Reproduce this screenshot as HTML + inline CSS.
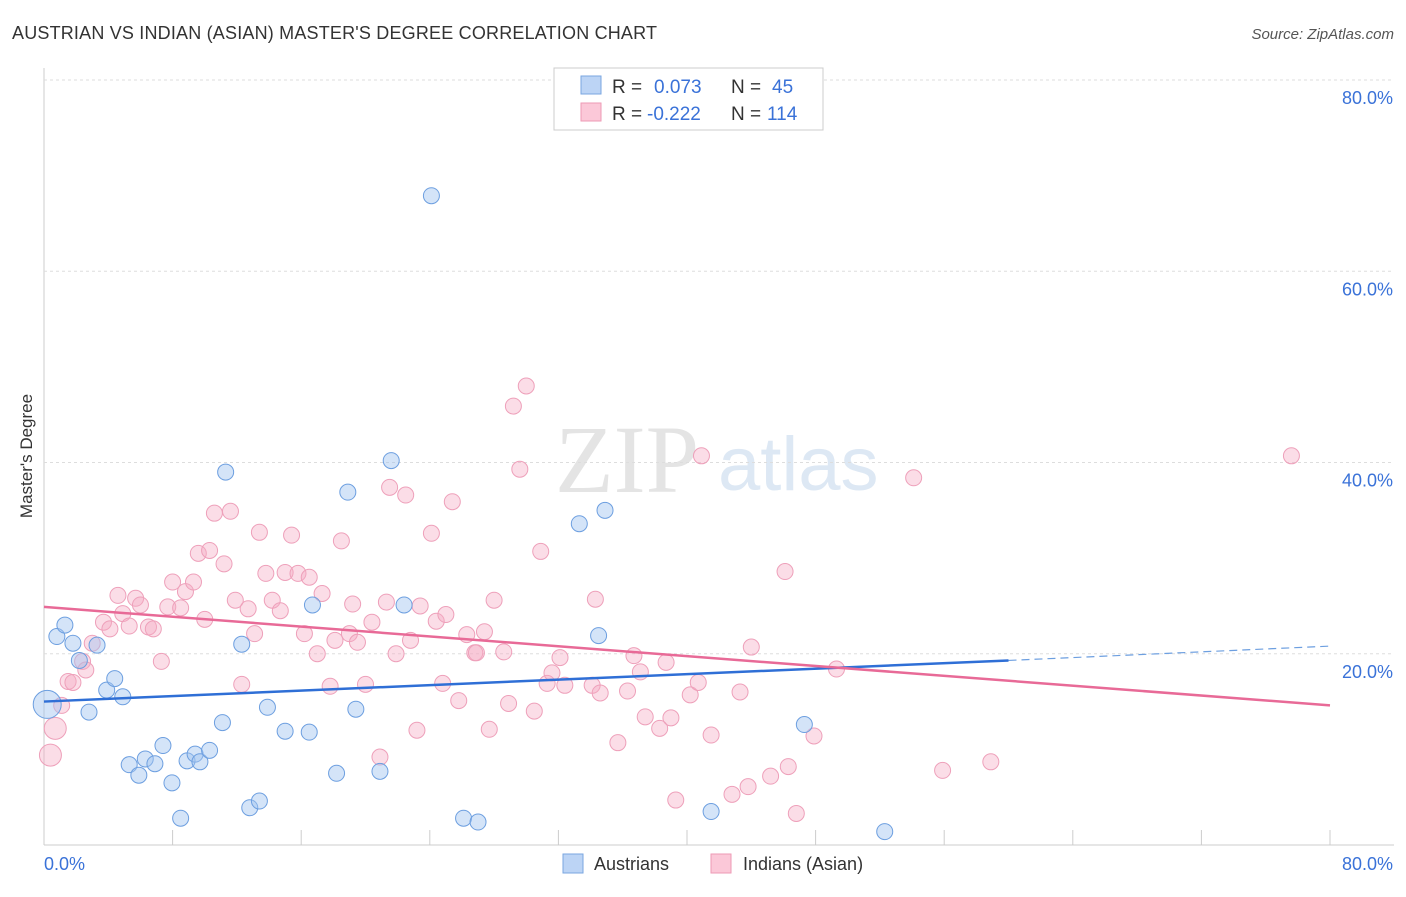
<!DOCTYPE html>
<html><head><meta charset="utf-8"><style>
body{margin:0;background:#fff;font-family:"Liberation Sans",sans-serif;}
</style></head><body>
<svg id="chart" width="1406" height="892" xmlns="http://www.w3.org/2000/svg">
<text x="12" y="39" font-size="18" fill="#333" textLength="645">AUSTRIAN VS INDIAN (ASIAN) MASTER'S DEGREE CORRELATION CHART</text>
<text x="1394" y="39" font-size="15" fill="#555" text-anchor="end" font-style="italic">Source: ZipAtlas.com</text>
<text x="32" y="456" font-size="17" fill="#333" text-anchor="middle" transform="rotate(-90 32 456)">Master's Degree</text>
<text x="555" y="492" font-size="96" fill="#e4e4e4" font-family="Liberation Serif,serif">ZIP</text>
<text x="718" y="490" font-size="76" fill="#dde8f4">atlas</text>
<g id="grid"></g><g id="pts"></g><g id="lines"></g>
<rect x="554" y="68" width="269" height="62" fill="#fff" stroke="#ccc"/>
<rect x="581" y="76" width="20" height="18" fill="#bcd4f5" stroke="#7aa6e0"/>
<rect x="581" y="103" width="20" height="18" fill="#fbc8d8" stroke="#ee9ab5"/>
<text x="612" y="93" font-size="19" fill="#333">R = <tspan x="654" fill="#3a72d8">0.073</tspan><tspan x="731" fill="#333">N = </tspan><tspan x="772" fill="#3a72d8">45</tspan></text>
<text x="612" y="120" font-size="19" fill="#333">R = <tspan x="647" fill="#3a72d8">-0.222</tspan><tspan x="731" fill="#333">N = </tspan><tspan x="767" fill="#3a72d8">114</tspan></text>
<rect x="563" y="854" width="20" height="19" fill="#bcd4f5" stroke="#7aa6e0"/>
<text x="594" y="870" font-size="18" fill="#333">Austrians</text>
<rect x="711" y="854" width="20" height="19" fill="#fbc8d8" stroke="#ee9ab5"/>
<text x="743" y="870" font-size="18" fill="#333">Indians (Asian)</text>
</svg>
<script>
const yTicks=[20,40,60,80];
const xTickLabels=["0.0%","80.0%"];
const blueX=[0.2,0.8,1.3,1.8,2.2,2.8,3.3,3.9,4.4,4.9,5.3,5.9,6.3,6.9,7.4,7.96,8.5,8.9,9.4,9.7,10.3,11.1,11.3,12.3,12.8,13.4,13.9,15.0,16.5,16.7,18.2,18.9,19.4,20.9,21.6,22.4,24.1,26.1,27.0,33.3,34.5,34.9,41.5,47.3,52.3];
const blueY=[14.7,21.8,23.0,21.1,19.3,13.9,20.9,16.2,17.4,15.5,8.4,7.3,9.0,8.5,10.4,6.5,2.8,8.8,9.5,8.7,9.9,12.8,39.0,21.0,3.9,4.6,14.4,11.9,11.8,25.1,7.5,36.9,14.2,7.7,40.2,25.1,67.9,2.8,2.4,33.6,21.9,35.0,3.5,12.6,1.4];
const pinkX=[0.4,0.7,1.1,1.5,1.8,2.4,2.6,3.0,3.7,4.1,4.6,4.9,5.3,5.7,6.0,6.5,6.8,7.3,7.7,8.0,8.5,8.8,9.3,9.6,10.0,10.3,10.6,11.2,11.6,11.9,12.3,12.7,13.1,13.4,13.8,14.2,14.7,15.0,15.4,15.8,16.2,16.5,17.0,17.3,17.8,18.1,18.5,19.0,19.2,19.5,20.0,20.4,20.9,21.3,21.5,21.9,22.5,22.8,23.2,23.4,24.1,24.4,24.8,25.0,25.4,25.8,26.3,26.8,26.9,27.4,27.7,28.0,28.6,28.9,29.2,29.6,30.0,30.5,30.9,31.3,31.6,32.1,32.4,34.1,34.3,34.6,35.7,36.3,36.7,37.1,37.4,38.3,38.7,39.0,39.3,40.2,40.7,40.9,41.5,42.8,43.3,43.8,44.0,45.2,46.1,46.3,46.8,47.9,49.3,54.1,55.9,58.9,77.6];
const pinkY=[9.4,12.2,14.6,17.1,17.0,19.2,18.3,21.1,23.3,22.6,26.1,24.2,22.9,25.8,25.1,22.8,22.6,19.2,24.9,27.5,24.8,26.5,27.5,30.5,23.6,30.8,34.7,29.4,34.9,25.6,16.8,24.7,22.1,32.7,28.4,25.6,24.5,28.5,32.4,28.4,22.1,28.0,20.0,26.3,16.6,21.4,31.8,22.1,25.2,21.2,16.8,23.3,9.2,25.4,37.4,20.0,36.6,21.4,12.0,25.0,32.6,23.4,16.9,24.1,35.9,15.1,22.0,20.1,20.1,22.3,12.1,25.6,20.2,14.8,45.9,39.3,48.0,14.0,30.7,16.9,18.0,19.6,16.7,16.7,25.7,15.9,10.7,16.1,19.8,18.1,13.4,12.2,19.1,13.3,4.7,15.7,17.0,40.7,11.5,5.3,16.0,6.1,20.7,7.2,28.6,8.2,3.3,11.4,18.4,38.4,7.8,8.7,40.7];
const trendBlue=[15.0,19.3,20.8]; // at x=0, 60, 80
const trendPink=[24.9,14.6];    // at x=0, 80
const X0=44,X1=1330,Y0=845,Y80=80;
const sx=v=>X0+(X1-X0)*v/80, sy=v=>Y0-(Y0-Y80)*v/80;
const NS="http://www.w3.org/2000/svg";
function mk(t,a,p){const e=document.createElementNS(NS,t);for(const k in a)e.setAttribute(k,a[k]);p.appendChild(e);return e;}
const grid=document.getElementById('grid');
let ax=mk('line',{x1:44,y1:68,x2:44,y2:845,stroke:'#ccc'},grid);

let bx=mk('line',{x1:44,y1:845,x2:1394,y2:845,stroke:'#ccc'},grid);

for(let i=0;i<=10;i++){const x=sx(i*8);const t=mk('line',{x1:x,y1:830,x2:x,y2:845,stroke:'#ccc'},grid);
}
yTicks.forEach(v=>{const y=sy(v);const l=mk('line',{x1:44,y1:y,x2:1394,y2:y,stroke:'#ddd','stroke-dasharray':'3,3'},grid);

const t=mk('text',{x:1393,y:y+24,'font-size':18,fill:'#3a72d8','text-anchor':'end'},grid);t.textContent=v.toFixed(1)+'%';
});
const l0=mk('text',{x:44,y:870,'font-size':18,fill:'#3a72d8'},grid);l0.textContent=xTickLabels[0];

const l1=mk('text',{x:1393,y:870,'font-size':18,fill:'#3a72d8','text-anchor':'end'},grid);l1.textContent=xTickLabels[1];

const pts=document.getElementById('pts');
pinkX.forEach((v,i)=>{const c=mk('circle',{cx:sx(v),cy:sy(pinkY[i]),r:i<2?11:8,fill:'rgba(246,170,195,0.4)',stroke:'#eea0ba','stroke-width':1},pts);
});
blueX.forEach((v,i)=>{const c=mk('circle',{cx:sx(v),cy:sy(blueY[i]),r:i==0?14:8,fill:'rgba(160,195,240,0.45)',stroke:'#6d9fe0','stroke-width':1},pts);
});
const ln=document.getElementById('lines');
let b1=mk('line',{x1:sx(0),y1:sy(trendBlue[0]),x2:sx(60),y2:sy(trendBlue[1]),stroke:'#2f6fd6','stroke-width':2.5},ln);

let b2=mk('line',{x1:sx(60),y1:sy(trendBlue[1]),x2:sx(80),y2:sy(trendBlue[2]),stroke:'#6d9fe0','stroke-width':1.2,'stroke-dasharray':'8,5'},ln);

let p1=mk('line',{x1:sx(0),y1:sy(trendPink[0]),x2:sx(80),y2:sy(trendPink[1]),stroke:'#e86a97','stroke-width':2.5},ln);

</script>
</body></html>
